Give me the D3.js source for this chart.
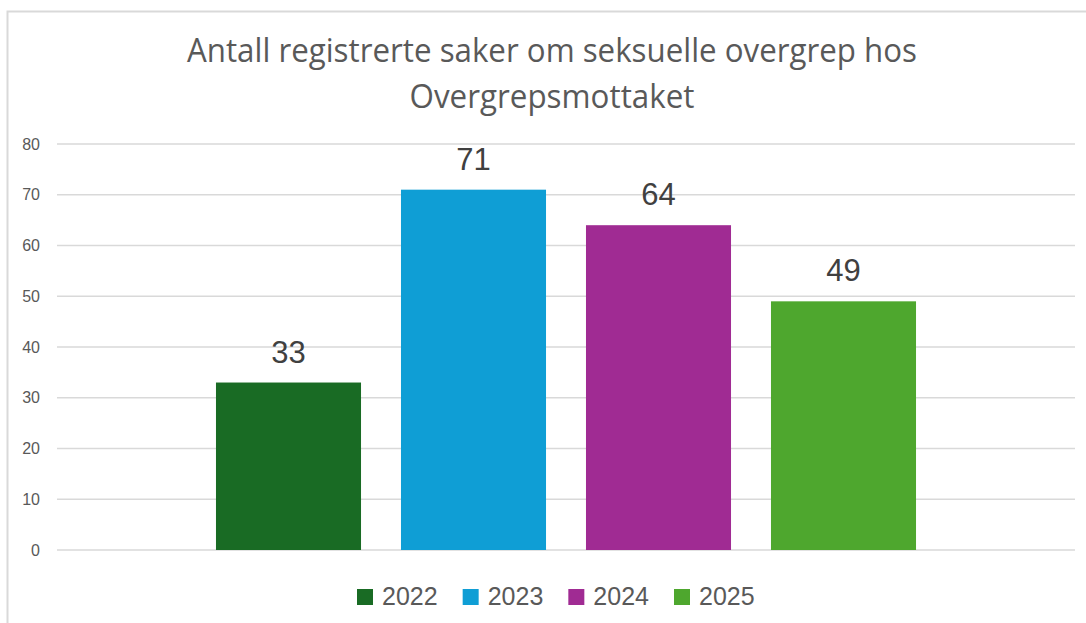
<!DOCTYPE html>
<html>
<head>
<meta charset="utf-8">
<script src="https://cdn.jsdelivr.net/npm/d3@7"></script>
<style>
  body { margin: 0; background: #fff; }
  svg { display: block; }
</style>
</head>
<body>
<div id="chart"></div>
<script>
const years = ['2022', '2023', '2024', '2025'];
const counts = [33, 71, 64, 49];
const colors = ['#196B24', '#0F9ED5', '#A02B93', '#4EA72E'];
const yTicks = [0, 10, 20, 30, 40, 50, 60, 70, 80];
const titleLines = ['Antall registrerte saker om seksuelle overgrep hos', 'Overgrepsmottaket'];

const width = 1086, height = 623;
const plot = { left: 57, right: 1075, top: 144, bottom: 550 };
const center = (plot.left + plot.right) / 2;

const svg = d3.select('#chart').append('svg')
    .attr('width', width)
    .attr('height', height);

// frame of the chart area
svg.append('rect')
    .attr('x', 7.5).attr('y', 11.5)
    .attr('width', 1100).attr('height', 640)
    .attr('fill', 'none')
    .attr('stroke', '#d9d9d9')
    .attr('stroke-width', 2);

const titleWidths = [730, 285];
svg.selectAll('.title')
    .data(titleLines)
    .join('text')
    .attr('class', 'title')
    .attr('x', 552)
    .attr('y', (d, i) => 62 + i * 46)
    .attr('text-anchor', 'middle')
    .attr('font-family', 'Open Sans, sans-serif')
    .attr('font-size', '32px')
    .attr('textLength', (d, i) => titleWidths[i])
    .attr('lengthAdjust', 'spacingAndGlyphs')
    .attr('fill', '#595959')
    .text(d => d);

const y = d3.scaleLinear().domain([0, 80]).range([plot.bottom, plot.top]);

const x = d3.scaleBand()
    .domain(years)
    .range([center - 370, center + 370])
    .paddingInner(0.216)
    .paddingOuter(0.108);

const grid = svg.append('g');
grid.selectAll('line')
    .data(yTicks)
    .join('line')
    .attr('x1', plot.left).attr('x2', plot.right)
    .attr('y1', d => y(d)).attr('y2', d => y(d))
    .attr('stroke', '#d9d9d9')
    .attr('stroke-width', 1.5);

const yAxis = svg.append('g')
    .attr('transform', 'translate(40,0)')
    .call(d3.axisLeft(y).tickValues(yTicks).tickSize(0).tickPadding(0));
yAxis.select('.domain').remove();
yAxis.selectAll('text')
    .attr('font-family', 'Liberation Sans, Arial, sans-serif')
    .attr('font-size', '16px')
    .attr('fill', '#595959');

svg.selectAll('.bar')
    .data(years)
    .join('rect')
    .attr('class', 'bar')
    .attr('x', d => x(d))
    .attr('width', x.bandwidth())
    .attr('y', (d, i) => y(counts[i]))
    .attr('height', (d, i) => y(0) - y(counts[i]))
    .attr('fill', (d, i) => colors[i]);

svg.selectAll('.value')
    .data(years)
    .join('text')
    .attr('class', 'value')
    .attr('x', d => x(d) + x.bandwidth() / 2)
    .attr('y', (d, i) => y(counts[i]) - 20)
    .attr('text-anchor', 'middle')
    .attr('font-family', 'Liberation Sans, Arial, sans-serif')
    .attr('font-size', '31px')
    .attr('fill', '#404040')
    .text((d, i) => counts[i]);

// legend
const legendX = d3.scalePoint().domain(years).range([357, 674]);
const legend = svg.append('g').attr('transform', 'translate(0,597)');
const items = legend.selectAll('g')
    .data(years)
    .join('g')
    .attr('transform', d => `translate(${legendX(d)},0)`);
items.append('rect')
    .attr('x', 0).attr('y', -8)
    .attr('width', 16).attr('height', 16)
    .attr('fill', (d, i) => colors[i]);
items.append('text')
    .attr('x', 25)
    .attr('y', 8)
    .attr('font-family', 'Liberation Sans, Arial, sans-serif')
    .attr('font-size', '25px')
    .attr('fill', '#595959')
    .text(d => d);
</script>
</body>
</html>
